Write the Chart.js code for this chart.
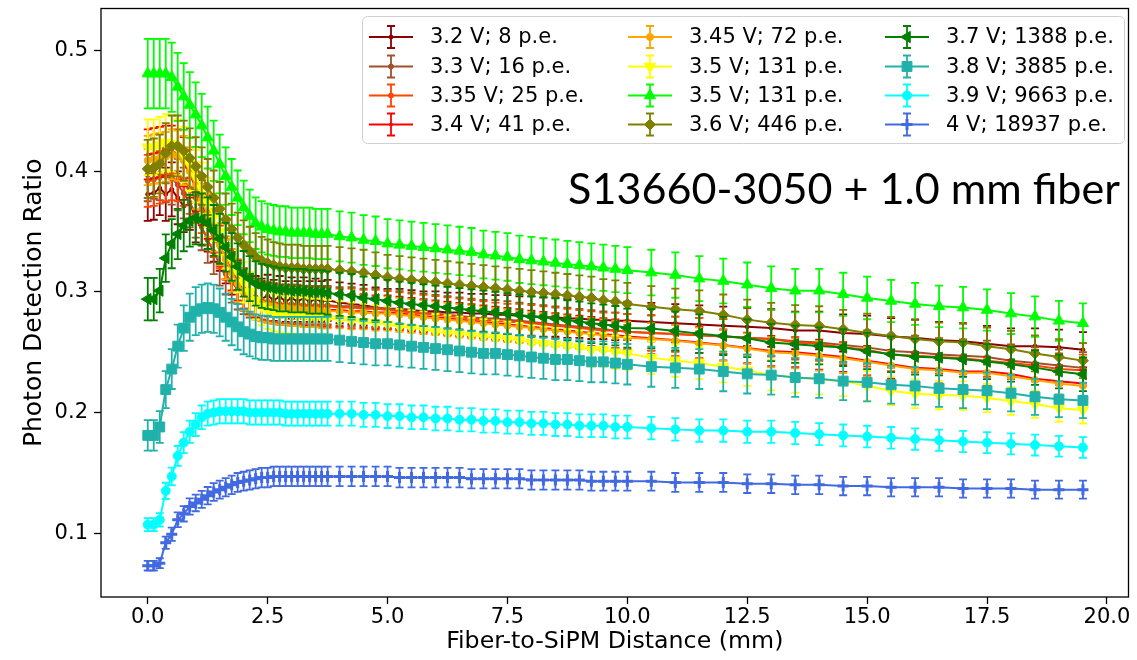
<!DOCTYPE html>
<html>
<head>
<meta charset="utf-8">
<title>Photon Detection Ratio</title>
<script src="https://cdn.jsdelivr.net/npm/chart.js@4.4.1/dist/chart.umd.min.js"></script>
<style>
  body { margin: 0; background: #fff; }
  #wrap { position: relative; width: 1137px; height: 660px; }
</style>
</head>
<body>
<div id="wrap"><canvas id="mainChart" width="1137" height="660"></canvas></div>
<script>
// Fiber-to-SiPM distance in mm (dense steps near 0, coarser later)
var distance = [0, 0.125, 0.25, 0.375, 0.5, 0.625, 0.75, 0.875, 1, 1.125, 1.25, 1.375, 1.5, 1.625, 1.75, 1.875,
  2, 2.125, 2.25, 2.375, 2.5, 2.625, 2.75, 2.875, 3, 3.125, 3.25, 3.375, 3.5, 3.625, 3.75,
  4, 4.25, 4.5, 4.75, 5, 5.25, 5.5, 5.75, 6, 6.25, 6.5, 6.75, 7, 7.25, 7.5, 7.75, 8, 8.25, 8.5, 8.75,
  9, 9.25, 9.5, 9.75, 10, 10.5, 11, 11.5, 12, 12.5, 13, 13.5, 14, 14.5, 15, 15.5, 16, 16.5, 17, 17.5,
  18, 18.5, 19, 19.5];

var seriesLabels = ["3.2 V; 8 p.e.", "3.3 V; 16 p.e.", "3.35 V; 25 p.e.", "3.4 V; 41 p.e.",
  "3.45 V; 72 p.e.", "3.5 V; 131 p.e.", "3.5 V; 131 p.e.", "3.6 V; 446 p.e.",
  "3.7 V; 1388 p.e.", "3.8 V; 3885 p.e.", "3.9 V; 9663 p.e.", "4 V; 18937 p.e."];

// photon detection ratio per bias voltage
var pdr320 = [.381, .382, .386, .381, .385, .378, .371, .373, .362, .360, .354, .345, .337, .326, .316, .308,
  .302, .298, .296, .294, .297, .293, .296, .292, .295, .292, .295, .292, .294, .292, .293,
  .291, .290, .289, .287, .286, .286, .285, .284, .284, .283, .283, .282, .282, .281, .281, .280, .280, .279, .279, .278,
  .278, .277, .277, .276, .276, .275, .274, .273, .272, .271, .270, .268, .268, .266, .265, .263, .262, .260, .259, .257,
  .255, .255, .254, .252];
var pdr330 = [.397, .399, .398, .396, .394, .389, .382, .374, .365, .354, .343, .333, .323, .315, .308, .302,
  .298, .295, .293, .292, .291, .291, .290, .290, .290, .290, .289, .289, .289, .289, .289,
  .288, .288, .287, .287, .286, .285, .284, .283, .282, .281, .280, .279, .278, .278, .277, .276, .275, .274, .273, .272,
  .271, .270, .269, .268, .267, .266, .265, .264, .263, .262, .261, .259, .258, .256, .254, .251, .250, .248, .247, .246,
  .243, .241, .239, .237];
var pdr335 = [.392, .393, .395, .397, .398, .397, .393, .386, .378, .369, .359, .348, .338, .328, .318, .310,
  .303, .298, .295, .293, .292, .291, .290, .290, .289, .289, .289, .288, .288, .288, .288,
  .287, .287, .286, .286, .285, .284, .283, .282, .281, .280, .279, .278, .277, .276, .275, .275, .274, .273, .272, .271,
  .270, .269, .268, .268, .267, .266, .265, .264, .263, .262, .261, .258, .257, .254, .252, .248, .247, .246, .245, .243,
  .241, .239, .236, .235];
var pdr340 = [.414, .415, .416, .417, .417, .414, .408, .398, .386, .374, .362, .350, .338, .327, .317, .308,
  .301, .296, .293, .291, .289, .288, .287, .287, .286, .286, .286, .285, .285, .285, .285,
  .285, .284, .284, .283, .283, .282, .281, .280, .279, .278, .277, .276, .275, .274, .273, .272, .271, .270, .269, .268,
  .267, .266, .265, .264, .263, .2615, .260, .258, .256, .2535, .251, .250, .248, .246, .243, .240, .237, .236, .234, .234,
  .232, .228, .226, .224];
var pdr345 = [.409, .410, .411, .412, .414, .413, .409, .400, .388, .376, .364, .351, .339, .327, .316, .307,
  .300, .295, .292, .290, .289, .288, .287, .287, .286, .286, .285, .285, .285, .284, .284,
  .284, .283, .283, .282, .282, .281, .280, .279, .278, .277, .276, .275, .274, .273, .272, .271, .270, .269, .268, .267,
  .266, .265, .264, .263, .262, .261, .2595, .2575, .2555, .253, .250, .249, .247, .245, .242, .239, .236, .235, .233, .233,
  .230, .227, .224, .222];
var pdr350 = [.420, .420, .422, .424, .423, .420, .414, .406, .396, .386, .374, .362, .350, .338, .327, .317,
  .308, .300, .293, .288, .285, .283, .282, .281, .281, .280, .280, .279, .279, .279, .278,
  .277, .276, .275, .274, .273, .271, .270, .269, .267, .266, .265, .264, .263, .262, .261, .260, .258, .257, .256, .255,
  .254, .252, .252, .250, .249, .2455, .243, .241, .238, .235, .231, .229, .2275, .226, .222, .218, .2155, .2145, .214, .212,
  .2095, .207, .2035, .202];
var pdr350b = [.481, .481, .481, .481, .478, .470, .462, .455, .447, .438, .428, .417, .406, .396, .387, .378,
  .370, .363, .357, .354, .352, .351, .350, .350, .349, .349, .349, .349, .348, .348, .348,
  .346, .345, .343, .342, .340, .339, .338, .337, .336, .335, .334, .333, .331, .330, .329, .327, .326, .325, .324, .323,
  .322, .321, .320, .319, .318, .316, .314, .311, .309, .306, .303, .301, .301, .298, .295, .2925, .290, .288, .287, .285,
  .282, .2795, .276, .274];
var pdr360 = [.402, .403, .406, .415, .421, .421, .417, .411, .404, .396, .387, .378, .369, .360, .352, .345,
  .339, .334, .329, .326, .324, .322, .321, .320, .320, .320, .319, .319, .319, .319, .319,
  .318, .317, .316, .314, .312, .311, .310, .309, .308, .307, .306, .305, .304, .303, .302, .301, .300, .299, .298, .297,
  .296, .295, .293, .292, .290, .2876, .2856, .2842, .281, .277, .2745, .2726, .2718, .269, .266, .2635, .261, .259, .258, .255,
  .2525, .249, .246, .243];
var pdr370 = [.294, .294, .301, .328, .340, .348, .355, .359, .361, .360, .357, .351, .344, .337, .329, .321,
  .315, .311, .307, .305, .304, .303, .302, .302, .301, .301, .301, .300, .300, .300, .299,
  .298, .297, .295, .294, .2925, .291, .290, .289, .288, .287, .286, .285, .284, .283, .282, .281, .2795, .279, .278, .2765,
  .2755, .274, .273, .272, .270, .2696, .2676, .2654, .2635, .2616, .258, .2566, .2552, .2538, .251, .2483, .2463, .2455, .2441, .2422,
  .240, .2372, .234, .2317];
var pdr380 = [.181, .181, .188, .219, .236, .255, .270, .279, .284, .286, .287, .286, .283, .279, .275, .271,
  .267, .265, .263, .262, .262, .261, .261, .261, .261, .261, .261, .261, .261, .261, .261,
  .260, .259, .258, .257, .257, .256, .255, .254, .253, .252, .251, .250, .249, .249, .248, .247, .246, .245, .244, .244,
  .243, .242, .242, .241, .240, .238, .237, .236, .234, .232, .231, .229, .228, .226, .225, .223, .222, .220, .219, .218,
  .216, .213, .211, .210];
var pdr390 = [.107, .107, .111, .135, .147, .164, .175, .184, .190, .196, .199, .200, .201, .201, .201, .201,
  .201, .200, .200, .200, .200, .200, .200, .199, .199, .199, .199, .199, .199, .199, .199,
  .199, .199, .198, .198, .197, .197, .196, .196, .195, .195, .194, .194, .193, .193, .192, .192, .191, .191, .190, .190,
  .189, .189, .189, .188, .188, .187, .186, .185, .185, .184, .184, .183, .182, .181, .180, .179, .178, .177, .176, .175,
  .174, .173, .172, .171];
var pdr400 = [.073, .073, .075, .092, .099, .111, .116, .122, .125, .128, .131, .134, .136, .138, .140, .142,
  .143, .144, .145, .146, .146, .147, .147, .147, .147, .147, .147, .147, .147, .147, .147,
  .147, .147, .147, .147, .147, .146, .146, .146, .146, .146, .146, .145, .145, .145, .145, .145, .144, .144, .144, .144,
  .144, .143, .143, .143, .143, .143, .142, .142, .142, .141, .141, .140, .140, .139, .139, .138, .138, .138, .137, .137,
  .137, .136, .136, .136];

// relative error bar size of each series
var relErr = [0.058, 0.055, 0.055, 0.05, 0.05, 0.055, 0.06, 0.06, 0.06, 0.07, 0.05, 0.055];

var xTicks = [0, 2.5, 5, 7.5, 10, 12.5, 15, 17.5, 20];
var yTicks = [0.1, 0.2, 0.3, 0.4, 0.5];
var noteText = "S13660-3050 + 1.0 mm fiber";

// styles
var colors = ["#8B0000", "#A0522D", "#FF4500", "#FF0000", "#FFA500", "#FFFF00", "#00FF00", "#808000",
  "#008000", "#20B2AA", "#00FFFF", "#4169E1"];
var markers = [
  {style: "circle", r: 2, rot: 0},
  {style: "circle", r: 2.5, rot: 0},
  {style: "circle", r: 2.5, rot: 0},
  {style: "circle", r: 1.5, rot: 0},
  {style: "circle", r: 3.5, rot: 0},
  {style: "triangle", r: 6.5, rot: 180},
  {style: "triangle", r: 6.5, rot: 0},
  {style: "rectRot", r: 5.5, rot: 0},
  {style: "triangle", r: 6.5, rot: 270},
  {style: "rect", r: 7, rot: 0},
  {style: "circle", r: 4.5, rot: 0},
  {style: "cross", r: 5.5, rot: 0}
];

var allSeries = [pdr320, pdr330, pdr335, pdr340, pdr345, pdr350, pdr350b, pdr360, pdr370, pdr380, pdr390, pdr400];
var FONT = "'DejaVu Sans', sans-serif";

//Building datasets
var datasets = [];
for (var i = 0; i < allSeries.length; i++) {
  var pts = [];
  for (var j = 0; j < distance.length; j++) {
    pts.push({x: distance[j], y: allSeries[i][j], err: allSeries[i][j] * relErr[i]});
  }
  datasets.push({
    label: seriesLabels[i],
    data: pts,
    borderColor: colors[i],
    backgroundColor: colors[i],
    borderWidth: 2,
    pointStyle: markers[i].style,
    pointRadius: markers[i].r,
    pointHoverRadius: markers[i].r,
    pointRotation: markers[i].rot,
    pointBorderWidth: markers[i].style == "cross" ? 3 : 1,
    pointBackgroundColor: colors[i],
    pointBorderColor: colors[i],
    tension: 0,
    order: allSeries.length - i   // later series on top, like matplotlib
  });
}

//Error bars, drawn just before each line
var errorBars = {
  id: "errorBars",
  beforeDatasetDraw: function(chart, args) {
    var ctx = chart.ctx;
    var yScale = chart.scales.y;
    var area = chart.chartArea;
    var ds = chart.data.datasets[args.index];
    ctx.save();
    ctx.beginPath();
    ctx.rect(area.left, area.top, area.right - area.left, area.bottom - area.top);
    ctx.clip();
    ctx.strokeStyle = ds.borderColor;
    ctx.lineWidth = 1.8;
    args.meta.data.forEach(function(el, k) {
      var p = ds.data[k];
      var top = yScale.getPixelForValue(p.y + p.err);
      var bot = yScale.getPixelForValue(p.y - p.err);
      ctx.beginPath();
      ctx.moveTo(el.x, top); ctx.lineTo(el.x, bot);
      ctx.moveTo(el.x - 4, top); ctx.lineTo(el.x + 4, top);
      ctx.moveTo(el.x - 4, bot); ctx.lineTo(el.x + 4, bot);
      ctx.stroke();
    });
    ctx.restore();
  }
};

//Box around the axes, legend and note
var extras = {
  id: "extras",
  afterDraw: function(chart) {
    var ctx = chart.ctx;
    var a = chart.chartArea;
    ctx.save();
    ctx.strokeStyle = "#000";
    ctx.lineWidth = 1.3;
    ctx.strokeRect(a.left, a.top, a.right - a.left, a.bottom - a.top);

    // note
    ctx.fillStyle = "#000";
    var size = 44;
    ctx.font = size + "px Lato, 'Liberation Sans', sans-serif";
    size = size * 552 / ctx.measureText(noteText).width;
    ctx.font = size + "px Lato, 'Liberation Sans', sans-serif";
    ctx.textBaseline = "alphabetic";
    ctx.textAlign = "left";
    ctx.fillText(noteText, 568, 204);

    // legend frame
    ctx.beginPath();
    ctx.roundRect(362.5, 16.5, 762, 127, 5);
    ctx.fillStyle = "rgba(255,255,255,0.85)";
    ctx.fill();
    ctx.strokeStyle = "#d0d0d0";
    ctx.lineWidth = 1;
    ctx.stroke();

    var colX = [369, 628, 885];
    var rowY = [37, 66.5, 95.5, 124.5];
    ctx.font = "21px " + FONT;
    ctx.textBaseline = "middle";
    chart.data.datasets.forEach(function(ds, n) {
      var hx = colX[Math.floor(n / 4)];
      var hy = rowY[n % 4];
      var cx = hx + 22;
      ctx.strokeStyle = ds.borderColor;
      ctx.fillStyle = ds.borderColor;
      ctx.lineWidth = 2;
      ctx.beginPath();
      ctx.moveTo(hx, hy); ctx.lineTo(hx + 44, hy);
      ctx.stroke();
      ctx.lineWidth = 1.8;
      ctx.beginPath();
      ctx.moveTo(cx, hy - 11); ctx.lineTo(cx, hy + 11);
      ctx.moveTo(cx - 4, hy - 11); ctx.lineTo(cx + 4, hy - 11);
      ctx.moveTo(cx - 4, hy + 11); ctx.lineTo(cx + 4, hy + 11);
      ctx.stroke();
      ctx.lineWidth = ds.pointBorderWidth;
      if (Chart.helpers && Chart.helpers.drawPoint) {
        Chart.helpers.drawPoint(ctx, {pointStyle: ds.pointStyle, radius: ds.pointRadius,
          rotation: ds.pointRotation, borderWidth: ds.pointBorderWidth}, cx, hy);
      }
      ctx.fillStyle = "#000";
      ctx.fillText(ds.label, hx + 61, hy + 1);
    });
    ctx.restore();
  }
};

var ctx = document.getElementById("mainChart").getContext("2d");
var chart = new Chart(ctx, {
  type: "line",
  data: { datasets: datasets },
  plugins: [errorBars, extras],
  options: {
    responsive: false,
    animation: false,
    devicePixelRatio: 1,
    layout: { padding: { left: 0, right: 4, top: 8, bottom: 0 } },
    plugins: { legend: { display: false }, tooltip: { enabled: false } },
    scales: {
      x: {
        type: "linear",
        min: -0.975,
        max: 20.45,
        afterBuildTicks: function(s) { s.ticks = xTicks.map(function(v) { return {value: v}; }); },
        afterFit: function(s) { s.height = 63; s.paddingLeft = 0; s.paddingRight = 0; },
        ticks: {
          color: "#000", font: { family: FONT, size: 21 }, padding: 1,
          maxRotation: 0, autoSkip: false,
          callback: function(v) { return v.toFixed(1); }
        },
        grid: { drawOnChartArea: false, tickLength: 7, tickColor: "#000", tickWidth: 1.3 },
        border: { display: false },
        title: { display: true, text: "Fiber-to-SiPM Distance (mm)", color: "#000",
          font: { family: FONT, size: 23.7 }, padding: { top: 0, bottom: 4 } }
      },
      y: {
        type: "linear",
        min: 0.047,
        max: 0.535,
        afterBuildTicks: function(s) { s.ticks = yTicks.map(function(v) { return {value: v}; }); },
        afterFit: function(s) { s.width = 101; s.paddingTop = 0; s.paddingBottom = 0; },
        ticks: {
          color: "#000", font: { family: FONT, size: 21 }, padding: 6,
          callback: function(v) { return v.toFixed(1); }
        },
        grid: { drawOnChartArea: false, tickLength: 7, tickColor: "#000", tickWidth: 1.3 },
        border: { display: false },
        title: { display: true, text: "Photon Detection Ratio", color: "#000",
          font: { family: FONT, size: 25 }, padding: { top: 19, bottom: 0 } }
      }
    }
  }
});
</script>
</body>
</html>
